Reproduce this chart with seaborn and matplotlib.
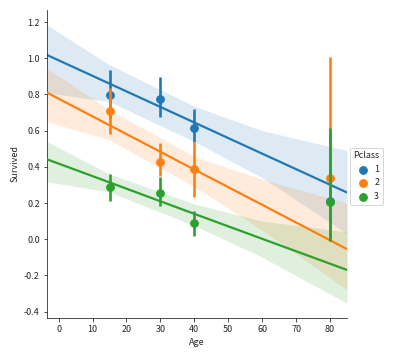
import numpy as np
import matplotlib
matplotlib.use("Agg")
import matplotlib.pyplot as plt
import seaborn as sns

# binned means (x_bins) with their confidence intervals
bins = [15, 30, 40, 80]
classes = ["1", "2", "3"]
mean_c1 = [0.796, 0.774, 0.614, 0.212]
lo_c1 = [0.67, 0.675, 0.54, 0.0]
hi_c1 = [0.933, 0.896, 0.719, 0.60]
mean_c2 = [0.708, 0.426, 0.387, 0.337]
lo_c2 = [0.58, 0.35, 0.236, -0.008]
hi_c2 = [0.835, 0.531, 0.54, 1.007]
mean_c3 = [0.288, 0.258, 0.088, 0.208]
lo_c3 = [0.213, 0.184, 0.018, -0.008]
hi_c3 = [0.361, 0.346, 0.158, 0.614]

# regression fits and bootstrap bands at a few ages
grid = [-3.5, 15, 40, 60, 85]
fit_c1 = [1.019, 0.86, 0.645, 0.473, 0.258]
band_lo_c1 = [0.81, 0.76, 0.54, 0.34, 0.03]
band_hi_c1 = [1.185, 0.964, 0.735, 0.60, 0.49]
fit_c2 = [0.811, 0.63, 0.385, 0.19, -0.055]
band_lo_c2 = [0.65, 0.549, 0.29, 0.05, -0.28]
band_hi_c2 = [0.946, 0.715, 0.457, 0.33, 0.20]
fit_c3 = [0.442, 0.314, 0.14, 0.002, -0.17]
band_lo_c3 = [0.318, 0.26, 0.075, -0.10, -0.354]
band_hi_c3 = [0.54, 0.36, 0.195, 0.10, 0.04]

sns.set_style("ticks")
plt.rcParams["font.family"] = ["Noto Sans CJK SC", "DejaVu Sans"]
plt.rcParams["axes.unicode_minus"] = False

colors = sns.color_palette("tab10", 3)
means = [mean_c1, mean_c2, mean_c3]
los = [lo_c1, lo_c2, lo_c3]
his = [hi_c1, hi_c2, hi_c3]
fits = [fit_c1, fit_c2, fit_c3]
blos = [band_lo_c1, band_lo_c2, band_lo_c3]
bhis = [band_hi_c1, band_hi_c2, band_hi_c3]

fig = plt.figure(figsize=(393 / 72, 352 / 72), dpi=72)
ax = fig.add_axes([0.119, 0.097, 0.764, 0.875])

for i, cls in enumerate(classes):
    c = colors[i]
    ax.vlines(bins, los[i], his[i], color=c, lw=2.6, zorder=2 + i)
    ax.scatter(bins, means[i], s=60, color=c, zorder=2 + i, label=cls)
    ax.plot(grid, fits[i], color=c, lw=2.2, zorder=2 + i)
    ax.fill_between(grid, blos[i], bhis[i], color=c, alpha=0.15, lw=0, zorder=1)

ax.set_xlim(-3.5, 85)
ax.set_ylim(-0.435, 1.268)
ax.set_xticks(range(0, 90, 10))
ax.set_yticks(np.arange(-0.4, 1.21, 0.2))
ax.set_xlabel("Age", fontsize=9)
ax.set_ylabel("Survived", fontsize=9)
ax.tick_params(labelsize=9)
sns.despine(ax=ax)

leg = ax.legend(title="Pclass", loc="center left", bbox_to_anchor=(1.0, 0.46),
                fontsize=9, title_fontsize=9, frameon=True, handletextpad=0.3,
                borderaxespad=0.3)

fig.savefig("out.png", dpi=72)
